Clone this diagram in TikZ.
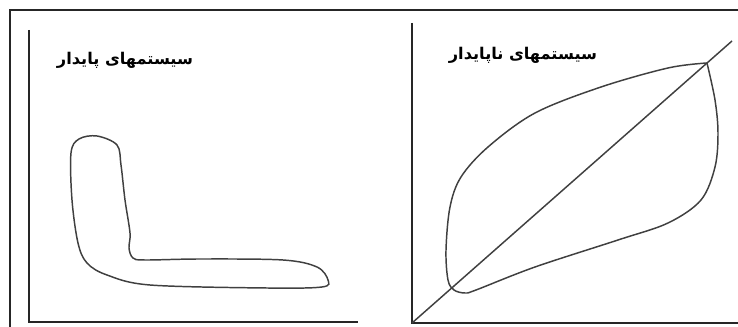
\documentclass[tikz,border=0pt]{standalone}
\usepackage{fontspec}
\newfontfamily\farsifont[Script=Arabic]{DejaVu Sans Bold}
\TeXXeTstate=1
\usetikzlibrary{positioning}

\begin{document}
\begin{tikzpicture}[x=0.025cm, y=-0.025cm,
  marco/.style={draw=black!85, line width=1.3pt},
  eje/.style={draw=black!85, line width=1.5pt},
  curva/.style={draw=black!75, line width=1.05pt},
  titulo/.style={font=\farsifont\fontsize{11.5}{13}\selectfont, inner sep=1pt}]
  \useasboundingbox (0,0) rectangle (738,327);
  \draw[marco] (10,327) -- (10,10) -- (738,10);
  % estable
  \draw[eje] (29,30) -- (29,322) -- (358,322);
  \node[titulo] (estable) at (125,60) {\beginR سیستمهای پایدار\endR};
  \draw[curva] plot[smooth cycle, tension=0.55] coordinates {
    (97,136) (117,145) (121,165) (125,200) (130,233) (129,248) (133,258)
    (145,260) (200,259) (283,260) (317,267) (328,280) (322,287) (267,288)
    (150,285) (107,275) (87,263) (78,243) (72,200) (71,153) (79,139)};
  % inestable
  \coordinate (origen) at (412,323);
  \coordinate (fin) at (732,41);
  \draw[eje] (412,23) -- (origen) -- (738,323);
  \draw[curva] (origen) -- (fin);
  \node[titulo] (inestable) at (523,55) {\beginR سیستمهای ناپایدار\endR};
  \draw[curva] plot[smooth, tension=0.55] coordinates {
    (707,63) (668,68) (601,87) (535,113) (488,147) (461,177) (450,207)
    (446,250) (448,280) (454,290) (465,293) (476,290) (535,267) (618,240)
    (668,223) (701,200) (715,167) (718,133) (715,100) (707,63)};
\end{tikzpicture}
\end{document}
